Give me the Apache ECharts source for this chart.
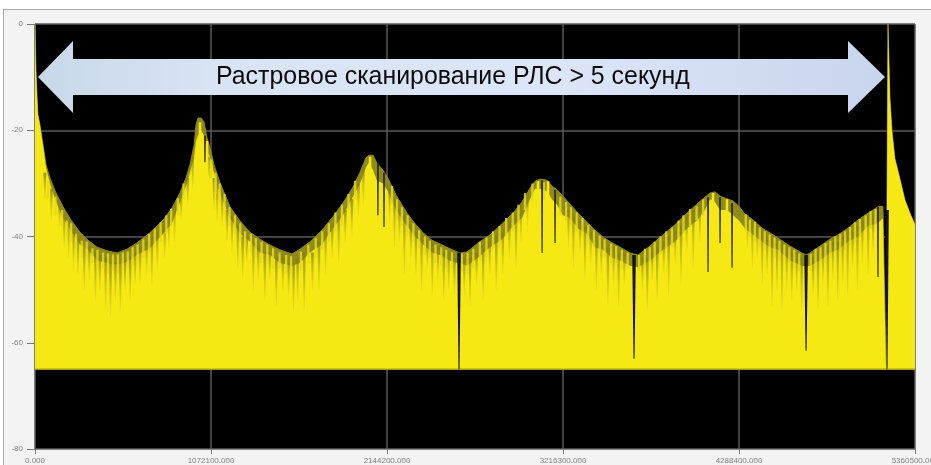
<!DOCTYPE html>
<html><head><meta charset="utf-8">
<script src="https://cdn.jsdelivr.net/npm/echarts@6/dist/echarts.min.js"></script>
<style>
html,body{margin:0;padding:0;background:#fff;overflow:hidden}
#frame{position:absolute;left:3px;top:9px;width:940px;height:470px;background:#f3f3f3;border:1px solid #aaa;box-sizing:border-box}
#c{position:absolute;left:0;top:0;width:931px;height:465px;filter:blur(0.6px)}
</style></head><body>
<div id="frame"></div><div id="c"></div>
<script>
// x in thousands of samples, y in dB
const xTicks=[0,1072.1,2144.2,3216.3,4288.4,5360.5];
const yTicks=[0,-20,-40,-60,-80];
const caption="Растровое сканирование РЛС > 5 секунд";
const envX=[0,6,12,18,30,49,67,91,128,171,219,274,323,378,439,500,560,621,700,780,835,883,920,944,969,981,993,1011,1029,1048,1066,1090,1127,1188,1249,1310,1370,1431,1492,1565,1614,1675,1748,1815,1876,1937,1980,2016,2035,2059,2083,2120,2150,2199,2266,2315,2364,2418,2467,2522,2571,2589,2632,2699,2772,2845,2912,2967,3015,3046,3076,3119,3149,3180,3216,3259,3308,3363,3411,3460,3515,3564,3625,3673,3746,3825,3898,3971,4032,4081,4112,4142,4173,4215,4252,4288,4325,4367,4428,4477,4526,4599,4672,4697,4721,4782,4843,4892,4953,5013,5074,5135,5165,5184,5190,5196,5202,5208,5220,5238,5263,5299,5330,5360.5];
const envDb=[0,-8.7,-13.4,-17.1,-19,-22.8,-26.5,-29,-31.8,-34.4,-36.9,-39.2,-40.7,-42,-42.7,-43.1,-42.4,-41.2,-39.3,-36.9,-34.6,-31.8,-29,-26.5,-22.8,-19,-17.7,-17.7,-18.4,-21.5,-23.3,-26.5,-29.9,-34.4,-37.1,-39.2,-40.5,-41.6,-42.5,-43.3,-42.4,-41,-38.8,-36.3,-33.7,-30.7,-27.9,-25.2,-24.7,-24.7,-26.2,-27.5,-29,-32.2,-35.6,-37.6,-39.3,-40.7,-41.4,-42.2,-42.9,-43.1,-42.9,-41.2,-39.7,-37.6,-35.6,-33.5,-30.9,-29.6,-29.2,-29.4,-30.5,-31.2,-32.4,-33.9,-35.6,-37.3,-38.8,-40.1,-41.2,-42,-43.1,-43.5,-41.8,-39.7,-37.8,-35.6,-33.9,-32.6,-31.8,-31.6,-32.4,-32.9,-33.3,-34.3,-35.8,-36.7,-38.4,-39.3,-40.3,-41.8,-43.1,-43.5,-43.1,-41.8,-40.5,-39.7,-38.4,-36.9,-35.6,-34.4,-34.3,-65,-65,0,0,-14,-20,-25.3,-28.4,-33.1,-35.6,-37.8];
const bodyDb=[0,-8.7,-13.4,-17.1,-19,-22.8,-27,-30,-33.5,-36.5,-38.8,-41.5,-42.5,-44.5,-45,-45.2,-44.8,-43.5,-42.2,-39.5,-37.5,-33.5,-30.5,-28,-25,-22,-21,-20,-21,-24,-25,-28,-32,-36.5,-39.5,-41,-43,-43.5,-45,-45.5,-45,-43,-41.5,-38.5,-36,-32.5,-30,-27,-26,-27.5,-29.5,-30,-31.5,-35,-38,-40,-41.5,-43,-43.5,-44.5,-45,-45,-45.5,-44,-42,-40.5,-38,-36.5,-33,-31,-31,-31.5,-33,-34,-36,-36.5,-38.5,-39.5,-42,-42.5,-44,-44.5,-45.5,-45.8,-44.5,-42.5,-41,-38.5,-37,-35,-33,-33.5,-35,-35,-36,-37,-38.5,-39.5,-41,-42,-42.5,-44.5,-45.5,-45.7,-45.5,-44.5,-43,-42.5,-41,-40,-38,-37.5,-36.5,-65,-65,0,0,-14,-20,-25.3,-28.4,-33.1,-35.6,-37.8];
const grassX=[60,100,150,178,205,235,262,300,330,368,395,430,460,490,520,548,580,610,640,680,712,745,790,815,850,890,930,960,1060,1090,1110,1140,1170,1200,1235,1265,1290,1330,1360,1400,1430,1470,1510,1545,1575,1600,1640,1690,1730,1770,1810,1850,1890,1930,1970,2000,2160,2190,2220,2250,2290,2320,2355,2390,2420,2455,2490,2520,2555,2615,2650,2690,2730,2770,2810,2850,2890,2930,2960,3000,3250,3280,3320,3350,3385,3420,3450,3490,3525,3555,3590,3700,3730,3760,3790,3830,3860,3900,3935,3970,4010,4050,4340,4370,4400,4430,4460,4490,4520,4550,4580,4610,4640,4670,4740,4770,4800,4830,4860,4890,4920,4950,4980,5010,5040,5075,5105];
const grassTop=[-28,-31,-34,-36,-37,-39,-40.5,-42,-42,-43,-44,-44,-45,-45,-45,-44.5,-44,-43,-42,-41,-40,-39,-38,-36,-34,-32,-29,-25,-25,-29,-30,-32,-35,-36,-38,-40,-40,-41,-42,-43,-43,-44,-44,-45,-45,-44,-43,-43,-41,-39,-38,-36,-35,-33,-30,-27,-31,-33,-35,-36,-38,-39,-40,-41,-41,-42,-43,-43,-44,-44,-44,-43,-42,-41,-40,-39,-37,-36,-34,-32,-35,-36,-37,-38,-39,-40,-41,-42,-42,-43,-43,-44,-44,-43,-42,-41,-40,-39,-38,-36,-35,-34,-36,-37,-38,-39,-40,-40,-41,-41,-42,-43,-43,-44,-44,-43,-42,-42,-41,-41,-40,-39,-39,-38,-37,-36,-36];
const grassBottom=[-33,-37,-38,-42,-44,-46,-47,-50,-48,-52,-50,-53.5,-55,-52,-54,-50,-52,-49,-49,-47,-49,-46,-44,-42,-41,-37,-34,-31,-30,-35,-37,-38,-41,-43,-46,-48,-45,-50,-48,-52,-48,-53,-50,-51,-54,-52,-54,-50,-50,-47,-44,-45,-41,-40,-36,-34,-37,-42,-41,-47,-44,-47,-50,-46,-51,-48,-52,-50,-51,-51,-53,-49,-52,-47,-50,-47,-44,-46,-41,-38,-42,-46,-43,-48,-45,-50,-47,-53,-49,-53,-49,-50,-54,-48,-52,-47,-51,-45,-49,-43,-46,-41,-42,-46,-44,-49,-47,-53,-50,-54,-50,-52,-50,-54,-51,-54,-49,-53,-48,-52,-49,-51,-46,-50,-45,-47,-43];
const fringeX=[80,125,165,195,220,250,285,315,350,380,415,445,475,505,535,565,595,625,660,695,730,765,800,830,870,905,1075,1100,1125,1155,1185,1218,1250,1280,1315,1345,1380,1415,1450,1490,1530,1560,1620,1665,1710,1750,1790,1830,1870,1910,1950,2175,2205,2235,2270,2305,2340,2375,2405,2440,2475,2505,2540,2600,2635,2670,2710,2750,2790,2830,2870,2910,2945,2985,3030,3100,3200,3235,3265,3300,3335,3370,3405,3440,3470,3510,3540,3575,3610,3680,3715,3745,3775,3810,3845,3880,3920,3950,3990,4030,4070,4330,4355,4385,4415,4445,4475,4505,4535,4565,4595,4625,4655,4725,4755,4785,4815,4845,4875,4905,4935,4965,4995,5025,5060,5090,5120];
const fringeTop=[-29.5,-32.5,-35,-37,-37.5,-39.5,-40.8,-41,-42.2,-42.5,-43,-43.2,-43.4,-43.4,-43,-42.8,-42,-41.5,-40.5,-39.5,-38.5,-37.3,-36,-34.8,-32.8,-30,-25.5,-28,-30,-32,-34.5,-36,-37.5,-39,-39.5,-40.3,-41,-41.5,-42.2,-43,-43.5,-43.7,-42.8,-41.5,-40.3,-39,-37.5,-35.5,-34,-32,-29.5,-30.5,-33,-34.5,-36,-37.5,-38.8,-40,-40.8,-41.5,-42,-42.5,-43,-43.2,-43,-42.3,-41,-40.2,-39,-38,-36.5,-35.5,-34,-31.8,-30,-29.8,-32.5,-33.5,-34.5,-35.5,-36.5,-37.8,-38.8,-39.8,-40.5,-41.3,-41.8,-42.5,-43,-43.5,-42.3,-42,-41,-40,-39,-38.3,-37,-36,-34.8,-34.3,-33,-35.8,-36.8,-37.2,-38.3,-39,-39.6,-40.2,-40.8,-41.5,-42,-42.5,-43.2,-43.3,-42.3,-42,-41.2,-40.8,-40,-39.5,-39,-38.2,-37.3,-36.7,-36,-35.2,-34.8];
const fringeBottom=[-33,-36,-38,-40,-41,-42,-44,-44.5,-45,-46,-46,-47,-46.5,-47,-46.5,-46,-45.5,-44.5,-44,-43,-42,-41,-39.5,-38,-36,-33,-29,-32,-33.5,-36,-38,-39.5,-41,-42,-43,-44,-45,-44.5,-46,-46,-47,-47,-46.5,-45,-44,-42.5,-41,-39,-38,-35,-33,-34,-37,-38,-40,-41,-42,-43.5,-44,-45,-45.5,-46,-46,-46.5,-47,-46,-44.5,-44,-42.5,-42,-40,-39,-37.5,-35,-33.5,-33,-36,-37,-38,-39,-40,-41,-42,-43,-44,-45,-45,-46,-46,-46.5,-46,-45,-44.5,-43.5,-42.5,-42,-40.5,-39.5,-38,-37,-36,-39,-40,-41,-42,-42.5,-43,-44,-44.5,-45,-45,-46,-46.5,-46.5,-46,-45,-45,-44,-43,-43,-42.5,-41.5,-41,-40,-39,-38.5,-38];
const gapX=[1035,2089,2126,3089,3168,4100,4173,4246,5135];
const gapTop=[-21,-26.2,-28,-29.4,-31.2,-32.6,-32.6,-33.7,-34.4];
const gapBottom=[-26,-36,-38.2,-43.1,-41.2,-46.7,-41.2,-45.9,-47.6];
const flareX=[1005,1048,2041,3064,3125,4130,4215];
const flareTop=[-18.5,-22,-25,-29.6,-29.6,-31.8,-33];
const flareBottom=[-26,-30,-33,-38,-37,-40,-41];
const notchX=[2583,3649,4697,5190];
const notchTop=[-43,-43.5,-43.5,-35];
const notchBottom=[-65,-63,-61.5,-65];
const floorX=[0,5360.5];
const floorDb=[-65,-65];

const zip=(...a)=>a[0].map((_,i)=>a.map(b=>b[i]));
function spikes(name,data,fill,wTop,wBot,z,op){
  return {type:'custom',name,z,clip:true,silent:true,data,
    encode:{x:0,y:[1,2]},
    renderItem(p,api){
      const a=api.coord([api.value(0),api.value(1)]),b=api.coord([api.value(0),api.value(2)]);
      return {type:'polygon',shape:{points:[[a[0]-wTop/2,a[1]],[a[0]+wTop/2,a[1]],[b[0]+wBot/2,b[1]],[b[0]-wBot/2,b[1]]]},
        style:{fill,opacity:op}};
    }};
}
const fade=new echarts.graphic.LinearGradient(0,0,0,1,[{offset:0,color:'rgba(130,125,25,0.95)'},{offset:1,color:'rgba(170,160,20,0.15)'}]);
const chart=echarts.init(document.getElementById('c'),null,{renderer:'canvas'});
chart.setOption({
  animation:false,backgroundColor:'transparent',
  grid:{left:35,right:16,top:24,bottom:16,show:true,backgroundColor:'#000',borderWidth:0,outerBoundsMode:'none'},
  xAxis:{type:'value',min:xTicks[0],max:xTicks[5],interval:xTicks[1],
    axisLine:{show:true,onZero:false,lineStyle:{color:'#888'}},
    axisTick:{show:true,length:5,lineStyle:{color:'#777'}},
    axisLabel:{show:true,showMinLabel:true,showMaxLabel:true,hideOverlap:false,margin:8,fontSize:8,color:'#808080',fontFamily:'Liberation Sans',
      formatter:v=>(v*1000).toFixed(3)},
    splitLine:{show:true,lineStyle:{color:'#5a5a5a',width:1.5}}},
  yAxis:{type:'value',min:yTicks[4],max:yTicks[0],interval:20,
    axisLine:{show:false},
    axisTick:{show:true,length:8,lineStyle:{color:'#777'}},
    axisLabel:{margin:12,fontSize:8,color:'#808080',fontFamily:'Liberation Sans'},
    splitLine:{show:true,lineStyle:{color:'#5a5a5a',width:1.5}}},
  series:[
    {type:'line',name:'envelope',z:3,data:zip(envX,envDb),symbol:'none',silent:true,
      lineStyle:{color:'#8f8a1c',width:1},areaStyle:{origin:-65,color:'#8f8a1c',opacity:1}},
    {type:'line',name:'body',z:4,data:zip(envX,bodyDb),symbol:'none',silent:true,
      lineStyle:{width:0},areaStyle:{origin:-65,color:'#f5e813',opacity:1}},
    {type:'line',name:'floor',z:5,data:zip(floorX,floorDb),symbol:'none',silent:true,
      lineStyle:{color:'#a89e14',width:1.5}},
    spikes('grass',zip(grassX,grassTop,grassBottom),fade,3,1,6,0.8),
    spikes('fringe',zip(fringeX,fringeTop,fringeBottom),'#e6d916',2.2,2.5,7,0.85),
    spikes('flares',zip(flareX,flareTop,flareBottom),'#f5e813',2.5,3,7,1),
    spikes('gaps',zip(gapX,gapTop,gapBottom),'#2e2c08',2,1.2,8,0.95),
    spikes('notches',zip(notchX,notchTop,notchBottom),'#14130a',3.6,1,9,1)
  ],
  graphic:[
    {type:'polygon',z:100,silent:true,
      shape:{points:[[38,77],[73,41],[73,59],[848,59],[848,41],[885,77],[848,113],[848,95],[73,95],[73,113]]},
      style:{fill:new echarts.graphic.LinearGradient(0,0,1,0,[{offset:0,color:'#c8d8e8'},{offset:.2,color:'#d8e3f4'},{offset:.6,color:'#dde6f8'},{offset:1,color:'#c9d4ee'}])}},
    {type:'text',z:101,silent:true,x:216,y:77,
      style:{text:caption,fill:'#0c0c0c',font:'24.9px "Liberation Sans"',verticalAlign:'middle',align:'left'}}
  ]
});
</script></body></html>
